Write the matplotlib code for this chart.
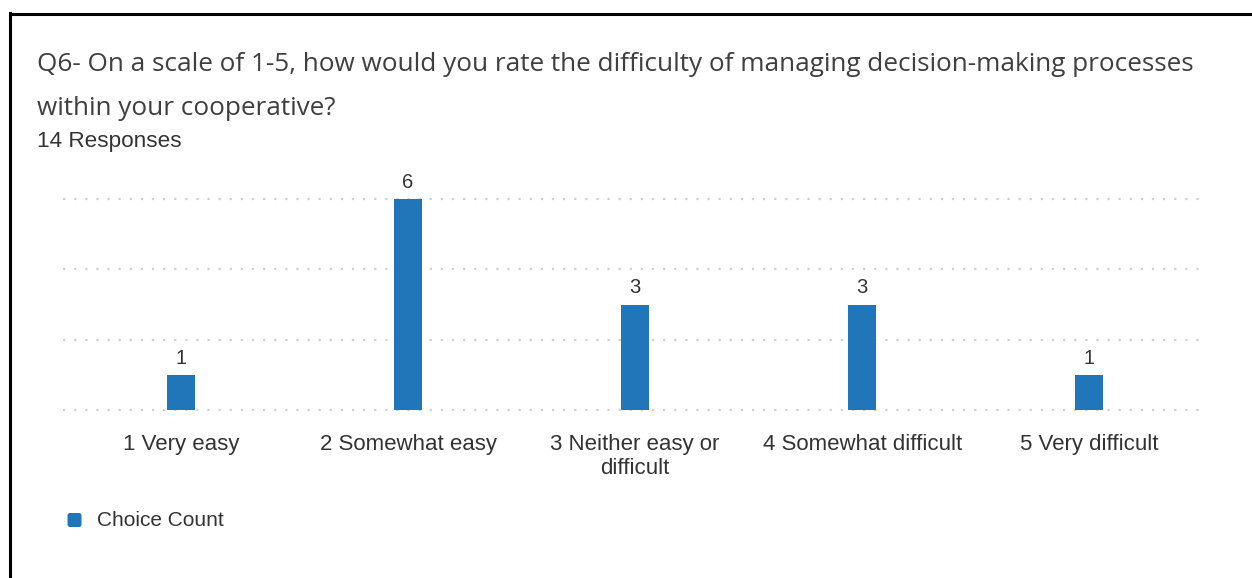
import matplotlib
matplotlib.use("Agg")
import matplotlib.pyplot as plt
from matplotlib.lines import Line2D
from matplotlib.patches import FancyBboxPatch

categories = ["1 Very easy", "2 Somewhat easy", "3 Neither easy or\ndifficult",
              "4 Somewhat difficult", "5 Very difficult"]
counts = [1, 6, 3, 3, 1]
grid_values = [0, 2, 4, 6]
title = "Q6- On a scale of 1-5, how would you rate the difficulty of managing decision-making processes\nwithin your cooperative?"
subtitle = "14 Responses"
legend_label = "Choice Count"

BAR = "#2176BA"
W, H = 1252, 578
fig = plt.figure(figsize=(W / 100, H / 100), dpi=100)
fig.patch.set_facecolor("white")

ax = fig.add_axes([63 / W, 1 - 410 / H, (1205 - 63) / W, (410 - 199) / H])
x = list(range(len(categories)))
bars = ax.bar(x, counts, width=0.123, color=BAR, zorder=3)
ax.set_xlim(-0.52, 4.51)
ax.set_ylim(0, 6)
for g in grid_values:
    ax.axhline(g, color="#cfcfcf", lw=1.6, linestyle=(0, (1, 4)), zorder=1, clip_on=False)
for b, v in zip(bars, counts):
    ax.text(b.get_x() + b.get_width() / 2, v + 0.2, str(v), ha="center", va="bottom",
            fontsize=14.5, color="#333333", family="Liberation Sans")
ax.set_xticks(x)
ax.set_xticklabels(categories, fontsize=16, color="#333333", family="Liberation Sans",
                   linespacing=1.2)
ax.tick_params(axis="x", length=0, pad=17)
ax.set_yticks([])
for s in ax.spines.values():
    s.set_visible(False)
ax.set_facecolor("none")

fig.text(37 / W, 1 - 52 / H, title, ha="left", va="top", fontsize=18.8,
         color="#3f3f3f", family="Open Sans", linespacing=1.98)
fig.text(37 / W, 1 - 142 / H, subtitle, ha="left", va="center", fontsize=16.2,
         color="#333333", family="Liberation Sans")

# legend
fig.add_artist(FancyBboxPatch((0.675, (H - 527) / 100), 0.14, 0.14,
                              boxstyle="round,pad=0,rounding_size=0.025",
                              transform=fig.dpi_scale_trans, facecolor=BAR, edgecolor="none"))
fig.text(97 / W, 1 - 521 / H, legend_label, ha="left", va="center", fontsize=15,
         color="#333333", family="Liberation Sans")

# border lines
fig.add_artist(Line2D([10 / W, 10 / W], [0, 1 - 13 / H], color="black", lw=2.2,
                      transform=fig.transFigure, solid_capstyle="projecting"))
fig.add_artist(Line2D([10 / W, 1], [1 - 14 / H, 1 - 14 / H], color="black", lw=2.2,
                      transform=fig.transFigure, solid_capstyle="projecting"))

fig.savefig("out.png", dpi=100, facecolor="white")
